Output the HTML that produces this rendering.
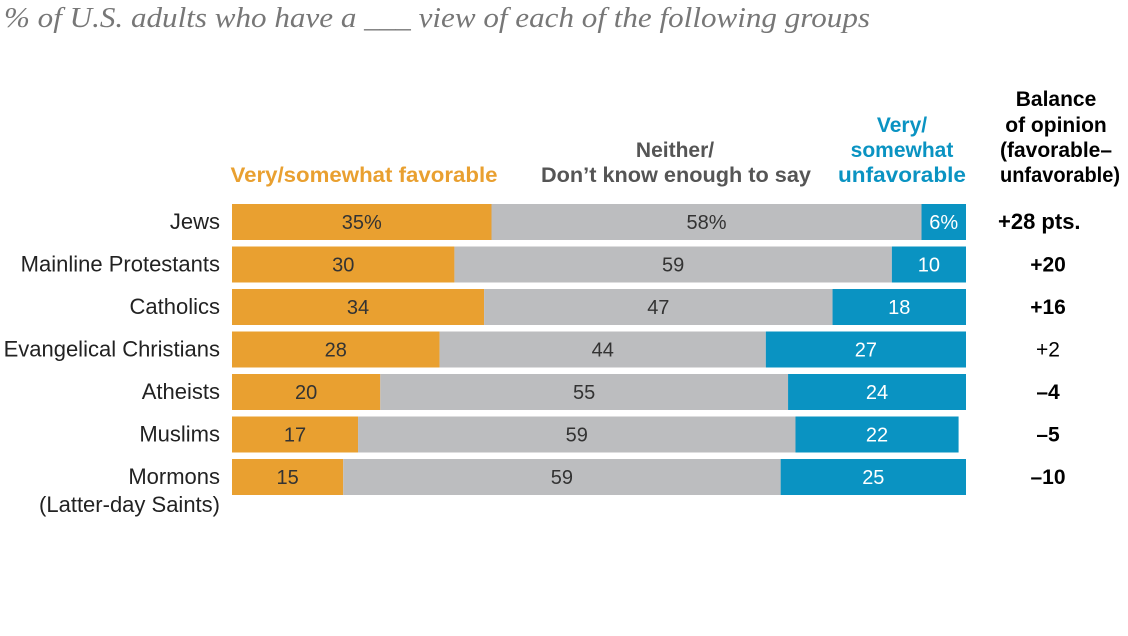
<!DOCTYPE html>
<html><head><meta charset="utf-8"><style>
body{margin:0;background:#fff;}
svg{display:block;}
</style></head><body>
<svg id="c" width="1128" height="636">
<text x="4" y="27" font-family="Liberation Serif,serif" font-style="italic" font-size="28" fill="#777" textLength="866" lengthAdjust="spacingAndGlyphs">% of U.S. adults who have a ___ view of each of the following groups</text>
<g font-family="Liberation Sans,sans-serif" font-weight="bold" font-size="21" text-anchor="middle">
<text x="364" y="182" fill="#e9a030" textLength="267" lengthAdjust="spacingAndGlyphs">Very/somewhat favorable</text>
<text x="675" y="157" fill="#555">Neither/</text>
<text x="676" y="182" fill="#555" textLength="270" lengthAdjust="spacingAndGlyphs">Don’t know enough to say</text>
<text x="902" y="132" fill="#0a93c2">Very/</text>
<text x="902" y="157" fill="#0a93c2">somewhat</text>
<text x="902" y="182" fill="#0a93c2" textLength="128" lengthAdjust="spacingAndGlyphs">unfavorable</text>
<text x="1056" y="106" fill="#000">Balance</text>
<text x="1056" y="132" fill="#000">of opinion</text>
<text x="1056" y="157" fill="#000">(favorable–</text>
<text x="1060" y="182" fill="#000" textLength="120" lengthAdjust="spacingAndGlyphs">unfavorable)</text>
</g>
<g id="bars"></g>
</svg>
<script>
const categories=["Jews","Mainline Protestants","Catholics","Evangelical Christians","Atheists","Muslims","Mormons"];
const favorable=[35,30,34,28,20,17,15];
const neither=[58,59,47,44,55,59,59];
const unfavorable=[6,10,18,27,24,22,25];
const balanceLabels=["+28 pts.","+20","+16","+2","–4","–5","–10"];
const balanceBold=[true,true,true,false,true,true,true];
const valueLabels=[["35%","58%","6%"]];
const NS="http://www.w3.org/2000/svg";
const g=document.getElementById('bars');
const x0=232, pxPer=734/99;
const xs=v=>v*pxPer;
const yRow=i=>204+i*42.5;
const bh=36;
const colors=["#e9a030","#bcbdbf","#0a93c2"];
const txtCol=["#333","#333","#fff"];
const names=["favorable","neither","unfavorable"];
const FF='Liberation Sans,sans-serif';
function mk(tag,attrs){const e=document.createElementNS(NS,tag);for(const k in attrs)e.setAttribute(k,attrs[k]);return e;}
categories.forEach((cat,i)=>{
  const y=yRow(i);
  const vals=[favorable[i],neither[i],unfavorable[i]];
  let x=x0;
  vals.forEach((v,j)=>{
    const w=xs(v);
    const r=mk('rect',{x:x,y:y,width:w,height:bh,fill:colors[j]});
    
    
    g.appendChild(r);
    const t=mk('text',{x:x+w/2,y:y+bh/2+7,'text-anchor':'middle','font-family':FF,'font-size':'20',fill:txtCol[j]});
    t.textContent=(i===0&&valueLabels[0])?valueLabels[0][j]:String(v);
    
    
    g.appendChild(t);
    x+=w;
  });
  const lines=cat==="Mormons"?["Mormons","(Latter-day Saints)"]:[cat];
  lines.forEach((ln,k)=>{
    const t=mk('text',{x:220,y:y+bh/2+7+k*28,'text-anchor':'end','font-family':FF,'font-size':'22',fill:'#222'});
    t.textContent=ln;
    
    
    g.appendChild(t);
  });
  const attrs={x:i===0?998:1048,y:y+bh/2+7,'text-anchor':i===0?'start':'middle','font-family':FF,'font-size':i===0?'22':'21','font-weight':balanceBold[i]?'bold':'normal',fill:'#000'};
  const b=mk('text',attrs);
  b.textContent=balanceLabels[i];
  
  
  g.appendChild(b);
});
</script>
</body></html>
